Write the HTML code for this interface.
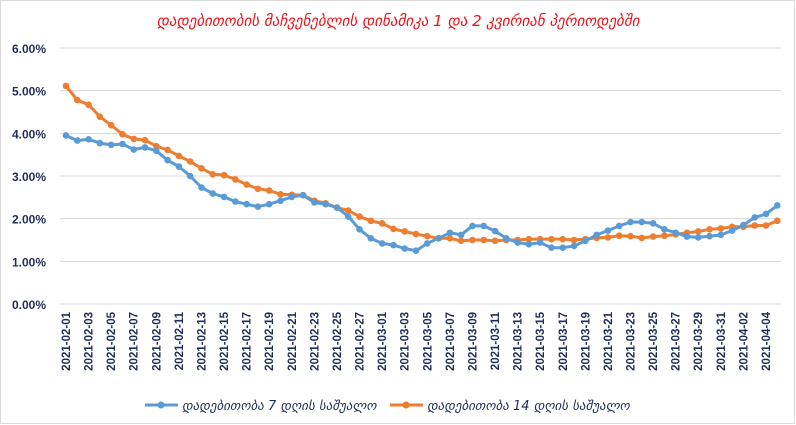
<!DOCTYPE html>
<html><head><meta charset="utf-8"><style>
html,body{margin:0;padding:0;background:#fff;}
svg{display:block;}
</style></head><body>
<svg id="c" width="796" height="425" xmlns="http://www.w3.org/2000/svg" font-family="Liberation Sans, DejaVu Sans, sans-serif">
<rect x="0.5" y="0.5" width="794" height="423" fill="#fff" stroke="#d9d9d9"/>
<text x="398" y="26" text-anchor="middle" fill="#e8141c" font-size="15" font-style="italic" font-family="DejaVu Sans, sans-serif">დადებითობის მაჩვენებლის დინამიკა 1 და 2 კვირიან პერიოდებში</text>
<g id="grid"></g><g id="ser"></g><g id="lab"></g>
<g font-family="DejaVu Sans, sans-serif" font-size="13" font-style="italic" fill="#1f2d5a">
<line x1="145" y1="405" x2="178" y2="405" stroke="#5b9bd5" stroke-width="3"/><circle cx="161" cy="405" r="3.5" fill="#5b9bd5"/>
<text x="182" y="410">დადებითობა 7 დღის საშუალო</text>
<line x1="390" y1="405" x2="423" y2="405" stroke="#ed7d31" stroke-width="3"/><circle cx="406" cy="405" r="3.5" fill="#ed7d31"/>
<text x="427" y="410">დადებითობა 14 დღის საშუალო</text>
</g>
</svg>
<script>
var B=[3.95,3.83,3.86,3.77,3.73,3.75,3.62,3.67,3.59,3.37,3.22,3.0,2.73,2.59,2.51,2.4,2.34,2.28,2.34,2.42,2.51,2.55,2.38,2.34,2.26,2.05,1.75,1.54,1.42,1.38,1.30,1.25,1.42,1.54,1.67,1.62,1.83,1.83,1.71,1.54,1.44,1.40,1.44,1.32,1.32,1.36,1.48,1.62,1.72,1.83,1.92,1.92,1.89,1.75,1.67,1.58,1.56,1.59,1.62,1.72,1.85,2.03,2.11,2.31];
var O=[5.11,4.78,4.67,4.39,4.19,3.98,3.87,3.84,3.7,3.61,3.47,3.34,3.18,3.04,3.02,2.92,2.8,2.7,2.66,2.57,2.56,2.55,2.42,2.36,2.26,2.19,2.05,1.95,1.89,1.76,1.70,1.64,1.59,1.54,1.54,1.48,1.50,1.50,1.48,1.50,1.50,1.52,1.52,1.52,1.52,1.50,1.52,1.55,1.56,1.60,1.59,1.55,1.58,1.60,1.63,1.67,1.70,1.75,1.77,1.81,1.81,1.84,1.84,1.95];
var NS="http://www.w3.org/2000/svg";
function X(i){return 66+11.29*i;} function Y(v){return 304-42.667*v;}
function el(p,t,a,txt){var e=document.createElementNS(NS,t);for(var k in a)e.setAttribute(k,a[k]);if(txt!=null)e.textContent=txt;p.appendChild(e);return e;}
var g=document.getElementById('grid'),s=document.getElementById('ser'),l=document.getElementById('lab');
for(var k=0;k<=6;k++){var y=Y(k);el(g,'line',{x1:60,x2:781,y1:y,y2:y,stroke:'#d9d9d9','stroke-width':1});
el(l,'text',{x:46,y:y+5,'text-anchor':'end','font-size':12,'font-weight':'bold',fill:'#1f2d5a'},k.toFixed(2)+'%');}
function ser(d,c){var p=d.map(function(v,i){return X(i).toFixed(1)+','+Y(v).toFixed(1)}).join(' ');
el(s,'polyline',{points:p,fill:'none',stroke:c,'stroke-width':3,'stroke-linejoin':'round'});
d.forEach(function(v,i){el(s,'circle',{cx:X(i),cy:Y(v),r:3.3,fill:c});});}
ser(O,'#ed7d31');ser(B,'#5b9bd5');
var d0=new Date(Date.UTC(2021,1,1));
for(var i=0;i<64;i+=2){var d=new Date(d0.getTime()+i*864e5);
var t=d.getUTCFullYear()+'-'+String(d.getUTCMonth()+1).padStart(2,'0')+'-'+String(d.getUTCDate()).padStart(2,'0');
var x=X(i)+4;el(l,'text',{x:x,y:312,transform:'rotate(-90 '+x+' 312)','text-anchor':'end','font-size':11.5,'font-weight':'bold',fill:'#1f2d5a'},t);}
</script>
</body></html>
